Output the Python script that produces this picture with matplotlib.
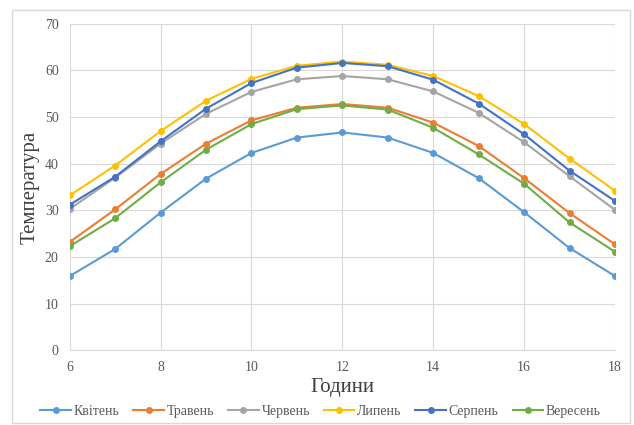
import numpy as np
import matplotlib.pyplot as plt
from matplotlib.patches import Rectangle

plt.rcParams['font.family'] = ['Liberation Serif', 'DejaVu Serif']

hours = [6, 7, 8, 9, 10, 11, 12, 13, 14, 15, 16, 17, 18]

kviten = [15.9, 21.7, 29.5, 36.8, 42.3, 45.6, 46.7, 45.6, 42.3, 36.9, 29.6, 21.9, 15.9]
traven = [23.2, 30.2, 37.8, 44.3, 49.3, 52.0, 52.8, 52.0, 48.8, 43.8, 36.9, 29.4, 22.7]
cherven = [30.3, 37.0, 44.3, 50.7, 55.4, 58.1, 58.8, 58.1, 55.5, 50.9, 44.6, 37.3, 30.1]
lypen = [33.2, 39.6, 47.0, 53.5, 58.2, 61.0, 61.9, 61.2, 58.8, 54.5, 48.5, 41.1, 34.2]
serpen = [31.2, 37.2, 44.8, 51.8, 57.3, 60.6, 61.6, 60.9, 58.0, 52.9, 46.3, 38.5, 32.0]
veresen = [22.3, 28.3, 36.0, 43.0, 48.5, 51.7, 52.5, 51.6, 47.7, 42.0, 35.7, 27.4, 21.1]

names = ['Квітень', 'Травень', 'Червень', 'Липень', 'Серпень', 'Вересень']
series = [kviten, traven, cherven, lypen, serpen, veresen]
colors = ['#5B9BD5', '#ED7D31', '#A5A5A5', '#FFC000', '#4472C4', '#70AD47']

fig = plt.figure(figsize=(6.34, 4.25), dpi=100)
# outer chart border
fig.patches.append(Rectangle((0.019, 0.005), 0.975, 0.972, transform=fig.transFigure,
                             fill=False, edgecolor='#D9D9D9', linewidth=1))
ax = fig.add_axes([0.110, 0.176, 0.860, 0.768])

for vals, name, c in zip(series, names, colors):
    ax.plot(hours, vals, '-o', color=c, label=name, linewidth=1.5, markersize=4)

ax.set_xlim(6, 18)
ax.set_ylim(0, 70)
ax.set_xticks(range(6, 19, 2))
ax.set_yticks(range(0, 71, 10))
ax.grid(True, color='#D9D9D9', linewidth=0.8)
ax.set_axisbelow(True)
for s in ['top', 'right', 'left']:
    ax.spines[s].set_visible(False)
ax.spines['bottom'].set_color('#D9D9D9')
ax.tick_params(length=0, colors='#595959', labelsize=10, pad=8)

ax.set_xlabel('Години', fontsize=15, color='#404040', labelpad=3)
ax.set_ylabel('Температура', fontsize=15, color='#404040', labelpad=4)

ax.legend(loc='upper center', bbox_to_anchor=(0.46, -0.13), ncol=6, frameon=False,
          fontsize=10, handlelength=2.2, columnspacing=1.0, handletextpad=0.2,
          labelcolor='#595959')

plt.savefig('out.png', dpi=100)
